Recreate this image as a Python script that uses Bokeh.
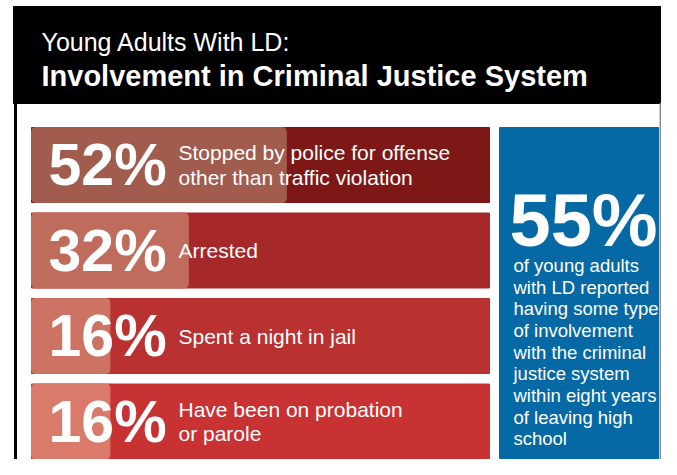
from bokeh.plotting import figure
from bokeh.models import Range1d
from bokeh.core.properties import value
from bokeh.embed import file_html
from bokeh.resources import INLINE

# ---------------- data ----------------
title_line1 = "Young Adults With LD:"
title_line2 = "Involvement in Criminal Justice System"
labels = [
    "Stopped by police for offense\nother than traffic violation",
    "Arrested",
    "Spent a night in jail",
    "Have been on probation\nor parole",
]
values = [52, 32, 16, 16]
bar_colors = ["#7d1817", "#a72829", "#b93130", "#c93233"]
overlay_colors = ["#a15c4e", "#c06c5c", "#cd7363", "#da7a6a"]
summary_value = 55
summary_text = [
    "of young adults",
    "with LD reported",
    "having some type",
    "of involvement",
    "with the criminal",
    "justice system",
    "within eight years",
    "of leaving high",
    "school",
]

# ---------------- layout ----------------
FONT = value("Liberation Sans")
W, H = 661, 459
PX_PER_PCT = 4.9
BAR_X0, BAR_X1 = 31, 489
ROW0, PITCH, BAR_H = 164.5, 85.5, 75

p = figure(width=W, height=H,
           x_range=Range1d(0, W), y_range=Range1d(H, 0),
           output_backend="svg", toolbar_location=None,
           x_axis_type=None, y_axis_type=None, min_border=0,
           outline_line_color=None, background_fill_color="white",
           border_fill_color="white")
p.extra_x_ranges = {"pct": Range1d(-BAR_X0 / PX_PER_PCT, (W - BAR_X0) / PX_PER_PCT)}
p.extra_y_ranges = {"row": Range1d((H - ROW0) / PITCH, -ROW0 / PITCH)}

# header
p.quad(left=13, right=W, top=6, bottom=103, color="black")
p.quad(left=14, right=16, top=103, bottom=H, color="black")
p.quad(left=W - 1.5, right=W, top=103, bottom=H, color="#8c8c8c")
p.text(x=[41], y=[41.5], text=[title_line1], text_font=FONT, text_font_size="25px",
       text_color="white", text_baseline="middle")
p.text(x=[41], y=[75], text=[title_line2], text_font=FONT, text_font_size="29px",
       text_font_style="bold", text_color="white", text_baseline="middle")

# bars
rows = list(range(len(values)))
p.hbar(y=rows, left=BAR_X0, right=BAR_X1, height=BAR_H / PITCH, color=bar_colors,
       y_range_name="row")
p.hbar(y=rows, left=0, right=values, height=BAR_H / PITCH, color=overlay_colors,
       border_radius=4, x_range_name="pct", y_range_name="row")
p.text(x=48, y=rows, text=[f"{v}%" for v in values], text_font=FONT,
       text_font_size="59px", text_font_style="bold", text_color="white",
       text_baseline="middle", y_range_name="row")
p.text(x=178, y=rows, text=labels, text_font=FONT, text_font_size="21px",
       text_line_height=1.06, text_color="white", text_baseline="middle",
       y_range_name="row")

# summary box
p.quad(left=499, right=658, top=127, bottom=458, color="#0569a6")
p.text(x=[509], y=[220], text=[f"{summary_value}%"], text_font=FONT,
       text_font_size="74px", text_font_style="bold", text_color="white",
       text_baseline="middle")
p.text(x=513, y=[265 + 21.65 * i for i in range(len(summary_text))], text=summary_text,
       text_font=FONT, text_font_size="18.5px", text_color="white",
       text_baseline="middle")

open("out.html", "w").write(file_html(p, INLINE))
